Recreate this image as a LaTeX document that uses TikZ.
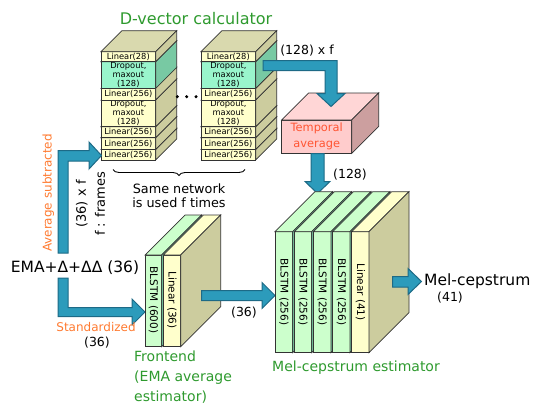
\documentclass[tikz,border=0pt]{standalone}
\usepackage{fontspec}
\setmainfont{DejaVu Sans}
\usetikzlibrary{decorations.pathreplacing}

\definecolor{blockblue}{HTML}{2C9BBB}
\definecolor{blockedge}{HTML}{1D6A86}
\definecolor{lblgreen}{HTML}{2E9A2E}
\definecolor{lblorange}{HTML}{FF7A30}
\definecolor{tempred}{HTML}{FF5533}
\definecolor{edgegray}{HTML}{333333}
\definecolor{yfront}{HTML}{FFFFCC}
\definecolor{yside}{HTML}{CCCC9E}
\definecolor{ytop}{HTML}{D9D9AE}
\definecolor{afront}{HTML}{99F5CC}
\definecolor{aside}{HTML}{78C9A3}
\definecolor{gfront}{HTML}{CCFFCC}
\definecolor{pfront}{HTML}{FFCCCC}
\definecolor{ptop}{HTML}{FFD6D6}
\definecolor{pside}{HTML}{CC9F9F}

\newcommand\fsz[2]{\fontsize{#1}{#2}\selectfont}

% cuboid: left, right, top, bottom, depth, front, top colour, side colour
\newcommand\cuboid[8]{%
  \filldraw[fill=#6,faceline] (#1,#3) rectangle (#2,#4);
  \filldraw[fill=#7,faceline] (#1,#3) -- ++(#5,-#5) -- ++(#2-#1,0) -- (#2,#3) -- cycle;
  \filldraw[fill=#8,faceline] (#2,#3) -- ++(#5,-#5) -- ++(0,#4-#3) -- (#2,#4) -- cycle;
}

% one d-vector network stack: left edge, name prefix
\newcommand\dstack[2]{%
  \cuboid{#1}{#1+54.7}{149.3}{160}{21}{yfront}{ytop}{yside}
  \node[layertxt] (#2a) at (#1+27.35,154.65) {Linear(256)};
  \cuboid{#1}{#1+54.7}{137.7}{149.3}{21}{yfront}{ytop}{yside}
  \node[layertxt] (#2b) at (#1+27.35,143.5) {Linear(256)};
  \cuboid{#1}{#1+54.7}{126.7}{137.7}{21}{yfront}{ytop}{yside}
  \node[layertxt] (#2c) at (#1+27.35,132.2) {Linear(256)};
  \cuboid{#1}{#1+54.7}{100}{126.7}{21}{yfront}{ytop}{yside}
  \node[droptxt] (#2d) at (#1+27.35,113.35) {Dropout,\\maxout\\(128)};
  \cuboid{#1}{#1+54.7}{88.3}{100}{21}{yfront}{ytop}{yside}
  \node[layertxt] (#2e) at (#1+27.35,94.15) {Linear(256)};
  \cuboid{#1}{#1+54.7}{61.7}{88.3}{21}{afront}{ytop}{aside}
  \node[droptxt] (#2f) at (#1+27.35,75) {Dropout,\\maxout\\(128)};
  \cuboid{#1}{#1+54.7}{51.7}{61.7}{21}{yfront}{ytop}{yside}
  \node[layertxt] (#2g) at (#1+27.35,56.7) {Linear(28)};
}

\begin{document}
\begin{tikzpicture}[x=1pt,y=-1pt,
  faceline/.style={draw=edgegray,line width=0.7pt},
  layertxt/.style={inner sep=0pt,font=\fsz{8.3}{9}},
  droptxt/.style={inner sep=0pt,align=center,font=\fsz{8.3}{9}},
  vtxt/.style={inner sep=0pt,rotate=-90,font=\fsz{10.5}{12}},
  blockarrow/.style={fill=blockblue,draw=blockedge,line width=1pt,line join=miter},
  lbl/.style={inner sep=0pt,font=\fsz{12.5}{14}},
  greenlbl/.style={inner sep=0pt,text=lblgreen},
  orangelbl/.style={inner sep=0pt,text=lblorange,font=\fsz{12}{14}}]

\useasboundingbox (0,0) rectangle (535,407);

% ---- d-vector calculator ----
\node[greenlbl,font=\fsz{16}{18}] (title) at (196,19) {D-vector calculator};
\dstack{101}{sa}
\dstack{201}{sb}
\fill (177.3,96.7) circle (1.7) (186.7,96.7) circle (1.7) (196,96.7) circle (1.7);

\draw[decorate,decoration={brace,mirror,amplitude=6pt},line width=0.9pt]
  (113,169.5) -- (245,169.5);
\node[lbl,align=center,font=\fsz{12.8}{14}] (same) at (179,196) {Same network\\is used f times};

% ---- temporal average ----
\cuboid{281.7}{351.7}{120}{153.3}{27}{pfront}{ptop}{pside}
\node[inner sep=0pt,align=center,text=tempred,font=\fsz{11.4}{16}] (tavg) at (316.7,136.5) {Temporal\\average};

\filldraw[blockarrow] (263,60.5) -- (337,60.5) -- (337,93.5) -- (345,93.5) -- (331,106.5)
  -- (317,93.5) -- (325,93.5) -- (325,70.5) -- (263,70.5) -- cycle;
\node[lbl] (dvf) at (307,51) {(128) x f};

\filldraw[blockarrow] (311,153.5) -- (324,153.5) -- (324,181.5) -- (330,181.5) -- (317.5,193.5)
  -- (305,181.5) -- (311,181.5) -- cycle;
\node[lbl] (dvdim) at (350,175) {(128)};

% ---- input features ----
\node[inner sep=0pt,font=\fsz{15.5}{18}] (ema) at (75,268) {EMA+Δ+ΔΔ (36)};

\filldraw[blockarrow] (58,253) -- (58,150.5) -- (89,150.5) -- (89,142) -- (101.5,155.5)
  -- (89,169) -- (89,161) -- (68,161) -- (68,253) -- cycle;
\node[orangelbl,rotate=90] (avgsub) at (48.3,193) {Average subtracted};
\node[lbl,rotate=90,font=\fsz{13}{14}] (inf) at (81.7,204) {(36) x f};
\node[lbl,rotate=90,font=\fsz{13}{14}] (frames) at (100,204) {f : frames};

\filldraw[blockarrow] (58,278) -- (58,316.5) -- (132,316.5) -- (132,325) -- (145,312)
  -- (132,299) -- (132,307.5) -- (68,307.5) -- (68,278) -- cycle;
\node[orangelbl] (stdz) at (96,327) {Standardized};
\node[lbl] (stdim) at (97,343) {(36)};

% ---- frontend ----
\cuboid{145}{161.7}{255}{346.7}{40}{gfront}{gfront}{aside}
\node[vtxt] (fe1) at (153.35,300) {BLSTM (600)};
\cuboid{163.3}{180.7}{255}{346.7}{40}{yfront}{yfront}{yside}
\node[vtxt] (fe2) at (172,300) {Linear (36)};
\node[greenlbl,anchor=north west,align=left,font=\fsz{14}{20}] (felbl) at (134,351)
  {Frontend\\(EMA average\\estimator)};

\filldraw[blockarrow] (201.5,290.5) -- (262,290.5) -- (262,282.5) -- (275,295.5)
  -- (262,308.5) -- (262,300.5) -- (201.5,300.5) -- cycle;
\node[lbl] (fedim) at (244,313) {(36)};

% ---- mel-cepstrum estimator ----
\cuboid{275}{292.7}{231.7}{352.7}{40}{gfront}{gfront}{aside}
\node[vtxt] (me1) at (283.85,292) {BLSTM (256)};
\cuboid{294.3}{311.7}{231.7}{352.7}{40}{gfront}{gfront}{aside}
\node[vtxt] (me2) at (303,292) {BLSTM (256)};
\cuboid{313.3}{331}{231.7}{352.7}{40}{gfront}{gfront}{aside}
\node[vtxt] (me3) at (322.15,292) {BLSTM (256)};
\cuboid{332.7}{350}{231.7}{352.7}{40}{gfront}{gfront}{aside}
\node[vtxt] (me4) at (341.35,292) {BLSTM (256)};
\cuboid{351.7}{369}{231.7}{352.7}{40}{yfront}{yfront}{yside}
\node[vtxt] (me5) at (360.35,292) {Linear (41)};
\node[greenlbl,font=\fsz{14}{16}] (melbl) at (356,368) {Mel-cepstrum estimator};

\filldraw[blockarrow] (392.5,276.5) -- (408,276.5) -- (408,268.5) -- (421.5,281.5)
  -- (408,294.5) -- (408,287) -- (392.5,287) -- cycle;
\node[inner sep=0pt,anchor=west,font=\fsz{15.5}{18}] (mcep) at (424,281) {Mel-cepstrum};
\node[lbl] (mdim) at (450,298) {(41)};

\end{tikzpicture}
\end{document}
